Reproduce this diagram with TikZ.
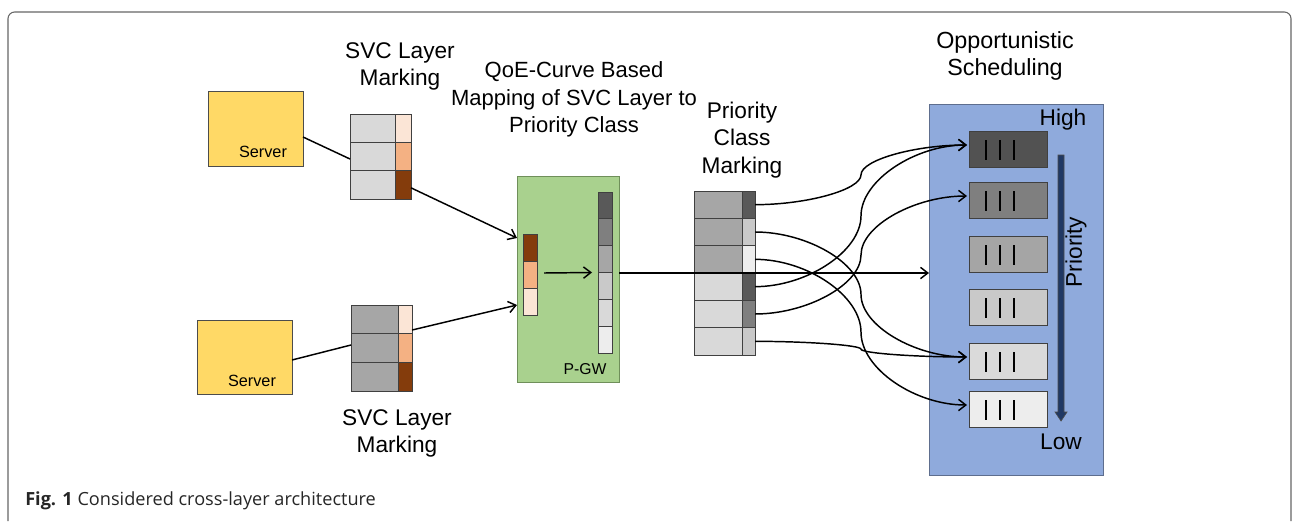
\documentclass[tikz,border=0pt]{standalone}
\usepackage{fontspec}
\setmainfont{Liberation Sans}
\newfontfamily\capfont{Open Sans}
\usetikzlibrary{arrows.meta,calc}
\definecolor{srv}{HTML}{FFD966}
\definecolor{pk1}{HTML}{FBE5D6}
\definecolor{pk2}{HTML}{F4B183}
\definecolor{brn}{HTML}{843C0C}
\definecolor{gD}{HTML}{D9D9D9}
\definecolor{gA}{HTML}{A6A6A6}
\definecolor{g5}{HTML}{595959}
\definecolor{g7}{HTML}{7F7F7F}
\definecolor{gC}{HTML}{C9C9C9}
\definecolor{gE}{HTML}{EDEDED}
\definecolor{q1c}{HTML}{525252}
\definecolor{q3c}{HTML}{A5A5A5}
\definecolor{q5c}{HTML}{DADADA}
\definecolor{pgwc}{HTML}{A9D18E}
\definecolor{pgwd}{HTML}{6F8F5A}
\definecolor{schc}{HTML}{8FAADC}
\definecolor{schd}{HTML}{5E6E8E}
\definecolor{navy}{HTML}{203864}
\newcommand\cellat[6]{\node[cell,fill=#6,minimum width=#4*0.75pt,minimum height=#5*0.75pt] (#1) at (#2,#3) {};}
\begin{document}
\begin{tikzpicture}[x=0.75pt,y=-0.75pt,
  lbl/.style={font=\fontsize{17}{20.6}\selectfont, align=center, inner sep=0},
  cell/.style={draw=black!75, line width=0.75pt, inner sep=0, outer sep=0, anchor=north west},
  conn/.style={line width=1.1pt, black},
  arr/.style={conn, -{Straight Barb[length=5.5pt,width=8.5pt,line width=1.1pt]}},
  bar/.style={line width=1.5pt, black},
]
\useasboundingbox (0,0) rectangle (1294,521);
% outer frame
\draw[black!60, line width=0.8pt, rounded corners=5pt] (8,521) -- (8,12) -- (1291,12) -- (1291,521);

% servers
\node[cell, fill=srv, draw=black!70, minimum width=95*0.75pt, minimum height=75*0.75pt] (s1) at (208,91) {};
\node[font=\fontsize{12.2}{14}\selectfont, inner sep=0] (s1t) at (263,152) {Server};
\node[cell, fill=srv, draw=black!70, minimum width=95*0.75pt, minimum height=74*0.75pt] (s2) at (197,320) {};
\node[font=\fontsize{12.2}{14}\selectfont, inner sep=0] (s2t) at (252,381) {Server};

% SVC stack 1
\cellat{a1}{350}{114}{45}{28.33}{gD}
\cellat{a2}{350}{142.33}{45}{28.33}{gD}
\cellat{a3}{350}{170.67}{45}{28.33}{gD}
\cellat{as1}{395}{114}{16}{28.33}{pk1}
\cellat{as2}{395}{142.33}{16}{28.33}{pk2}
\cellat{as3}{395}{170.67}{16}{28.33}{brn}
% SVC stack 2
\cellat{b1}{351}{305}{47}{28.67}{gA}
\cellat{b2}{351}{333.67}{47}{28.67}{gA}
\cellat{b3}{351}{362.33}{47}{28.67}{gA}
\cellat{bs1}{398}{305}{14}{28.67}{pk1}
\cellat{bs2}{398}{333.67}{14}{28.67}{pk2}
\cellat{bs3}{398}{362.33}{14}{28.67}{brn}

% P-GW
\node[cell, fill=pgwc, draw=pgwd, minimum width=102*0.75pt, minimum height=206*0.75pt] (pgw) at (517,176) {};
\node[font=\fontsize{11.8}{14}\selectfont, inner sep=0] (pgwl) at (585,369) {P-GW};
\cellat{m1}{523}{234}{14}{27}{brn}
\cellat{m2}{523}{261}{14}{27}{pk2}
\cellat{m3}{523}{288}{14}{27}{pk1}
\cellat{g1}{598}{192}{14}{26.83}{g5}
\cellat{g2}{598}{218.83}{14}{26.83}{g7}
\cellat{g3}{598}{245.67}{14}{26.83}{gA}
\cellat{g4}{598}{272.5}{14}{26.83}{gC}
\cellat{g5n}{598}{299.33}{14}{26.83}{gD}
\cellat{g6}{598}{326.17}{14}{26.83}{gE}

% priority class marking stack
\cellat{p1}{694}{191}{48}{27.33}{gA}
\cellat{p2}{694}{218.33}{48}{27.33}{gA}
\cellat{p3}{694}{245.67}{48}{27.33}{gA}
\cellat{p4}{694}{273}{48}{27.33}{gD}
\cellat{p5}{694}{300.33}{48}{27.33}{gD}
\cellat{p6}{694}{327.67}{48}{27.33}{gD}
\cellat{ps1}{742}{191}{13}{27.33}{g5}
\cellat{ps2}{742}{218.33}{13}{27.33}{gC}
\cellat{ps3}{742}{245.67}{13}{27.33}{gE}
\cellat{ps4}{742}{273}{13}{27.33}{g5}
\cellat{ps5}{742}{300.33}{13}{27.33}{g7}
\cellat{ps6}{742}{327.67}{13}{27.33}{gC}

% scheduler
\node[cell, fill=schc, draw=schd, minimum width=174*0.75pt, minimum height=371*0.75pt] (sch) at (929,104) {};
\cellat{q1}{969}{131}{78}{36}{q1c}
\cellat{q2}{969}{182}{78}{36}{g7}
\cellat{q3}{969}{236}{78}{36}{q3c}
\cellat{q4}{969}{289}{78}{36}{gC}
\cellat{q5}{969}{343}{78}{36}{q5c}
\cellat{q6}{969}{391}{78}{36}{gE}
\foreach \q in {q1,q2,q3,q4,q5,q6}
  \foreach \dx in {17,31,45}
    \draw[bar] ($(\q.north west)+(\dx,9)$) -- ++(0,20);
\filldraw[fill=navy, draw=black!70, line width=0.5pt]
  (1058,155) -- (1064,155) -- (1064,412) -- (1067,412) -- (1061,421) -- (1055,412) -- (1058,412) -- cycle;

% labels
\node[lbl] (l1) at (400,66.5) {SVC Layer\\Marking};
\node[lbl] (l2) at (397,433.5) {SVC Layer\\Marking};
\node[lbl, font=\fontsize{16.5}{20.8}\selectfont] (l3) at (574,99.5) {QoE-Curve Based\\Mapping of SVC Layer to\\Priority Class};
\node[lbl] (l4) at (742,140) {Priority\\Class\\Marking};
\node[lbl, font=\fontsize{17.5}{20.8}\selectfont] (l5) at (1005,56) {Opportunistic\\Scheduling};
\node[lbl] (hi) at (1063,120) {High};
\node[lbl] (lo) at (1061,442) {Low};
\node[lbl, rotate=90] (pr) at (1076,252) {Priority};

% straight connectors
\draw[conn] ($(s1.east)+(0,8.5)$) -- ($(a2.west)+(0,2.5)$);
\draw[arr] ($(as3.east)+(0,3)$) -- ($(m1.west)+(-6,-9.5)$);
\draw[conn] ($(s2.east)+(0,3)$) -- ($(b2.west)+(0,-3)$);
\draw[arr] ($(bs1.east)+(0,10.7)$) -- ($(m3.west)+(-6,3.5)$);
\draw[arr] ($(m2.east)+(7,-1.5)$) -- ($(g4.north west)+(-6,0)$);
\draw[arr] ($(pgw.east)+(0,-6)$) -- ($(sch.west)+(0,-16.5)$);

% curved connectors
\coordinate (t1) at ($(q1.west)+(-2,-4)$);
\coordinate (t2) at ($(q2.west)+(-2,-4)$);
\coordinate (t5) at ($(q5.west)+(-2,-4)$);
\coordinate (t6) at ($(q6.west)+(-2,-4)$);
\draw[arr] (ps1.east) .. controls +(52,0) and +(0,14.9) .. ($(ps1.east)!0.5!(t1)$) .. controls +(0,-14.9) and +(-52,0) .. (t1);
\draw[arr] (ps4.east) .. controls +(52,0) and +(0,35.4) .. ($(ps4.east)!0.5!(t1)$) .. controls +(0,-35.4) and +(-52,0) .. (t1);
\draw[arr] (ps5.east) .. controls +(52,0) and +(0,29.5) .. ($(ps5.east)!0.5!(t2)$) .. controls +(0,-29.5) and +(-52,0) .. (t2);
\draw[arr] (ps2.east) .. controls +(52,0) and +(0,-31.3) .. ($(ps2.east)!0.5!(t5)$) .. controls +(0,31.3) and +(-52,0) .. (t5);
\draw[arr] (ps6.east) .. controls +(52,0) and +(0,-4) .. ($(ps6.east)!0.5!(t5)$) .. controls +(0,4) and +(-52,0) .. (t5);
\draw[arr] (ps3.east) .. controls +(52,0) and +(0,-36.5) .. ($(ps3.east)!0.5!(t6)$) .. controls +(0,36.5) and +(-52,0) .. (t6);

% caption
\node[anchor=west, inner sep=0, text=black!85, font=\capfont\fontsize{13.6}{15}\selectfont] (cap) at (25,501) {\textbf{Fig. 1} Considered cross-layer architecture};
\end{tikzpicture}
\end{document}
